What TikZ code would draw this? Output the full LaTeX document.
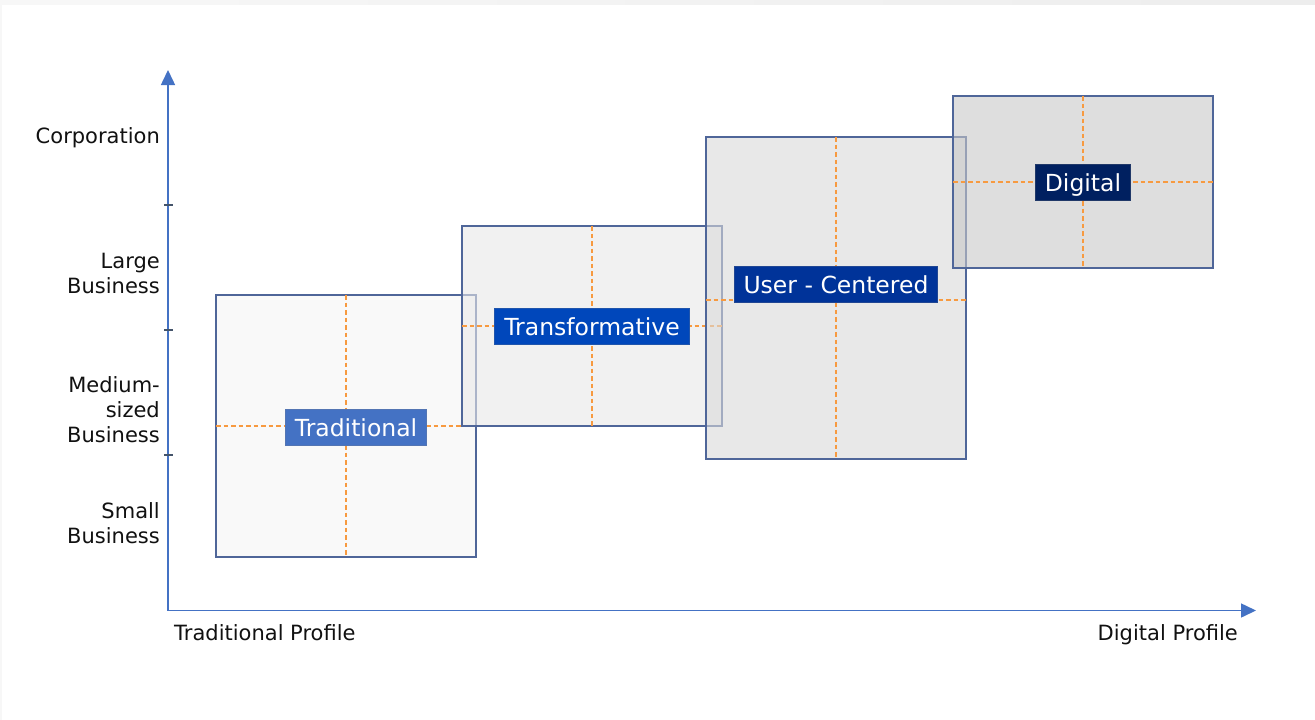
\documentclass[tikz,border=0pt]{standalone}
\usepackage{fontspec}
\setmainfont{DejaVu Sans}
\usetikzlibrary{arrows.meta}
\definecolor{axisblue}{HTML}{4472C4}
\definecolor{tickgray}{HTML}{44546A}
\definecolor{boxedge}{HTML}{4F6699}
\definecolor{guideorange}{HTML}{F79A40}
\definecolor{fillA}{HTML}{F5F5F5}
\definecolor{fillB}{HTML}{E9E9E9}
\definecolor{fillC}{HTML}{DADADA}
\definecolor{fillD}{HTML}{C8C8C8}
\definecolor{labA}{HTML}{4472C4}
\definecolor{labB}{HTML}{0047BB}
\definecolor{labC}{HTML}{003399}
\definecolor{labD}{HTML}{002060}
\definecolor{textdark}{HTML}{111111}
\begin{document}
\begin{tikzpicture}[x=1pt,y=-1pt,
  stage/.style={draw=boxedge, line width=1.5pt, fill opacity=0.6, inner sep=0pt, outer sep=0pt, minimum width=260pt},
  guide/.style={draw=guideorange, line width=1.8pt, dash pattern=on 4.5pt off 3pt},
  tag/.style={text=white, font=\fontsize{23.5}{27}\selectfont, inner xsep=9.5pt, inner ysep=0pt, minimum height=36pt, text height=18pt, text depth=0pt, line width=1pt},
  axislabel/.style={font=\fontsize{21}{25}\selectfont, text=textdark, inner sep=0pt, align=right},
  axis/.style={draw=axisblue, line width=1.5pt, {Triangle[width=14pt,length=15pt]}-{Triangle[width=14pt,length=15pt]}},
  tick/.style={draw=tickgray, line width=1.2pt}]
\useasboundingbox (0,0) rectangle (1315,720);
\fill[white] (0,0) rectangle (1315,720);
\fill[left color=white!97!black, right color=white!93!black] (0,0) rectangle (1315,4);
\fill[white!97!black] (0,0) rectangle (2,720);

% axes
\coordinate (origin) at (168,610.5);
\coordinate (ytip) at (168,70);
\coordinate (xtip) at (1256,610.5);
\draw[axis] (ytip) -- (origin) -- (xtip);
\coordinate (t1) at (168,205);
\coordinate (t2) at (168,330);
\coordinate (t3) at (168,455);
\foreach \t in {t1,t2,t3}{\draw[tick] ([xshift=-4pt]\t) -- ([xshift=5pt]\t);}

% axis labels
\node[axislabel, anchor=base east] (corp) at (160,143) {Corporation};
\node[axislabel, anchor=east] (large) at (160,273) {Large\\Business};
\node[axislabel, anchor=east] (medium) at (160,410) {Medium-\\sized\\Business};
\node[axislabel, anchor=east] (small) at (160,523) {Small\\Business};
\node[axislabel, anchor=base west] (tradprof) at (174,640) {Traditional Profile};
\node[axislabel, anchor=base east] (digprof) at (1238,640) {Digital Profile};

% Traditional
\node[stage, fill=fillA, minimum height=262pt] (trad) at (346,426) {};
\draw[guide] (trad.north) -- (trad.south);
\draw[guide] (trad.west) -- (trad.east);
\node[tag, fill=labA, draw=labA!75!gray] (tradlab) at (356,427) {Traditional};

% Transformative
\node[stage, fill=fillB, minimum height=200pt] (trans) at (592,326) {};
\draw[guide] (trans.north) -- (trans.south);
\draw[guide] (trans.west) -- (trans.east);
\node[tag, fill=labB, draw=labB!75!gray] (translab) at (592,326.5) {Transformative};

% User - Centered
\node[stage, fill=fillC, minimum height=322pt] (user) at (836,298) {};
\draw[guide] (user.north) -- (user.south);
\draw[guide] ([yshift=-2pt]user.west) -- ([yshift=-2pt]user.east);
\node[tag, fill=labC, draw=labC!75!gray] (userlab) at (836,284) {User - Centered};

% Digital
\node[stage, fill=fillD, minimum height=172pt] (digital) at (1083,182) {};
\draw[guide] (digital.north) -- (digital.south);
\draw[guide] (digital.west) -- (digital.east);
\node[tag, fill=labD, draw=labD!75!gray] (diglab) at (1083,182) {Digital};
\end{tikzpicture}
\end{document}
